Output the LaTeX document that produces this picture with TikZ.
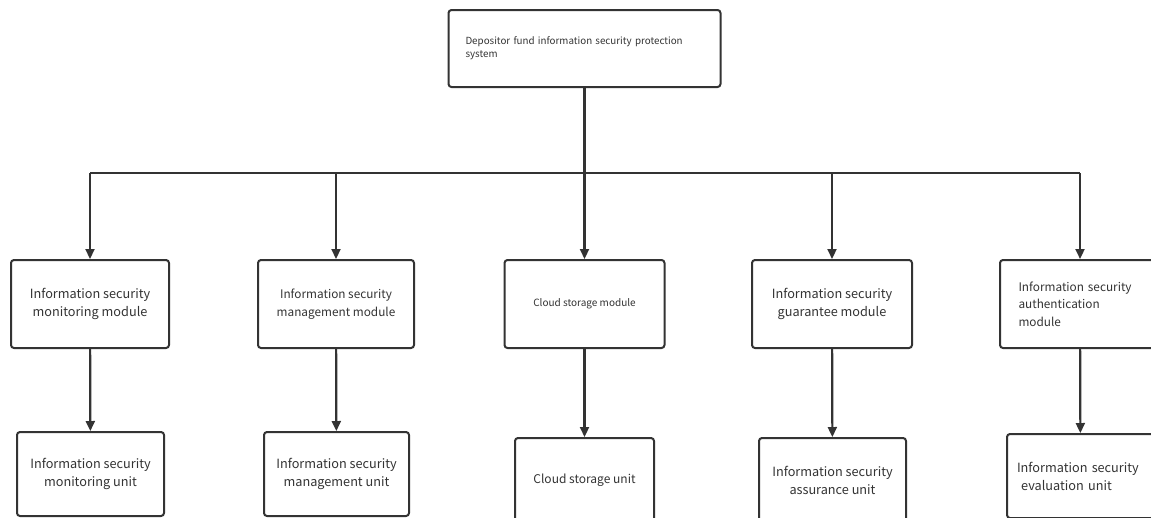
\documentclass[tikz,border=0pt]{standalone}
\usepackage{fontspec}
\setmainfont{Noto Sans CJK SC}
\usetikzlibrary{arrows.meta,positioning}

\definecolor{linegray}{HTML}{333333}
\definecolor{textgray}{HTML}{333333}

\tikzset{
	box/.style={draw=linegray, line width=2pt, rounded corners=3pt, text=textgray,
		minimum height=88pt, inner sep=0pt, align=center},
	unitbox/.style={box, minimum height=84pt},
	big/.style={font=\fontsize{12.7}{18}\selectfont},
	mid/.style={font=\fontsize{11.8}{17.5}\selectfont},
	small/.style={font=\fontsize{10}{14}\selectfont},
	arr/.style={draw=linegray, line width=2.2pt, -{Triangle[length=10pt,width=9pt]}},
	bus/.style={draw=linegray, line width=2.2pt}
}

\begin{document}
\begin{tikzpicture}[x=1pt, y=-1pt]
	\useasboundingbox (0,0) rectangle (1151,517);
	\clip (0,0) rectangle (1151,517);

	% root
	\node[box, minimum width=272pt, minimum height=77pt, text width=238pt, align=left,
		font=\fontsize{9.8}{13}\selectfont] (root) at (584.5,48.5)
		{Depositor fund information security protection\\system};

	% modules
	\node[box, big, minimum width=158pt] (m1) at (90,304) {Information security\\monitoring module};
	\node[box, mid, minimum width=156pt] (m2) at (336,304) {Information security\\management module};
	\node[box, small, minimum width=160pt] (m3) at (584.5,304) {Cloud storage module};
	\node[box, big, minimum width=160pt] (m4) at (832,304) {Information security\\guarantee module};
	\node[box, mid, minimum width=160pt, text width=123pt, align=left] (m5) at (1080,304)
		{Information security\\authentication\\module};

	% units
	\node[unitbox, big, minimum width=147pt] (u1) at (90.5,474) {Information security\\monitoring unit};
	\node[unitbox, big, minimum width=145pt] (u2) at (336.5,474) {Information security\\management unit};
	\node[unitbox, font=\fontsize{12}{18}\selectfont, minimum width=139pt] (u3) at (584.5,480) {Cloud storage unit};
	\node[unitbox, big, minimum width=147pt] (u4) at (832.5,480) {Information security\\assurance unit};
	\node[unitbox, big, minimum width=147pt, text width=127pt, align=left] (u5) at (1080.5,476)
		{Information security\\\ evaluation unit};

	% connectors
	\coordinate (fork) at (584.5,173);
	\draw[bus] (fork -| m1) -- (fork -| m5);
	\draw[arr] (root) -- (m3);
	\draw[arr] (fork -| m1) -- (m1);
	\draw[arr] (fork -| m2) -- (m2);
	\draw[arr] (fork -| m4) -- (m4);
	\draw[arr] (fork -| m5) -- (m5);

	\draw[arr] (m1) -- (u1);
	\draw[arr] (m2) -- (u2);
	\draw[arr] (m3) -- (u3);
	\draw[arr] (m4) -- (u4);
	\draw[arr] (m5) -- (u5);
\end{tikzpicture}
\end{document}
